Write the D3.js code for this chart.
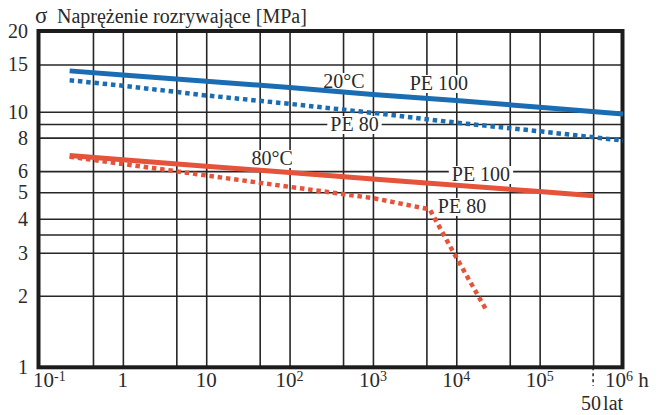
<!DOCTYPE html>
<html><head><meta charset="utf-8">
<script src="https://cdn.jsdelivr.net/npm/d3@7"></script>
<style>
body{margin:0;background:#fff}
svg{display:block}
text{font-family:"Liberation Serif","Times New Roman",serif;fill:#2a2a2a}
</style>
</head><body>
<svg id="chart" width="662" height="415"></svg>
<script>
// ---------- data ----------
const yTickLabels = [1, 2, 3, 4, 5, 6, 8, 10, 15, 20];
const yGridValues = [2, 3, 3.5, 4, 5, 6, 8, 9, 10, 15];
const xTickExponents = [-1, 0, 1, 2, 3, 4, 5, 6];
const xGridDecades = [1, 10, 100, 1e3, 1e4, 1e5];
const xGridMinor = [0.438, 4.38, 43.8, 438, 4380, 43800, 438000];
const fiftyYears = 438000;

const pe100_20C_t = [0.23, 1, 10, 100, 1e3, 1e4, 1e5, 1e6];
const pe100_20C_s = [14.2, 13.7, 13.0, 12.3, 11.6, 11.0, 10.4, 9.8];
const pe80_20C_t  = [0.23, 1, 10, 100, 1e3, 1e4, 1e5, 1e6];
const pe80_20C_s  = [13.1, 12.5, 11.5, 10.7, 9.9, 9.1, 8.45, 7.8];
const pe100_80C_t = [0.23, 1, 10, 100, 1e3, 1e4, 1e5, 4.4e5];
const pe100_80C_s = [6.86, 6.62, 6.26, 5.93, 5.61, 5.31, 5.03, 4.86];
const pe80_80C_t  = [0.23, 1, 10, 100, 1e3, 4800, 9600, 22700];
const pe80_80C_s  = [6.79, 6.38, 5.78, 5.24, 4.76, 4.33, 2.94, 1.75];

const labelTexts = ["20°C", "PE 100", "PE 80", "80°C", "PE 100", "PE 80"];
const labelT     = [450, 6170, 601, 62, 19770, 11700];
const labelS     = [12.26, 12.05, 8.47, 6.32, 5.51, 4.2];

const titleSymbol = "σ";
const titleText = "Naprężenie rozrywające [MPa]";
const unitText = "h";
const fiftyText = ["50", "lat"];

// ---------- layout ----------
const svg = d3.select("#chart");
const BLUE = "#1a6db3", RED = "#e5533a", GRID = "#262626";
const x = d3.scaleLog().domain([0.1, 1e6]).range([39.5, 623]);
// reference axis is only roughly logarithmic: piecewise log scale
const y = d3.scaleLog().domain([1, 2, 3, 5, 10, 20]).range([367, 295.7, 252.7, 192.3, 111.7, 31]);
const X0 = 38.5, X1 = 622.5, Y0 = 31, Y1 = 367.3;

// grid
const gGrid = svg.append("g");
gGrid.append("g").attr("transform", `translate(0,${Y1})`)
  .call(d3.axisBottom(x).tickValues(xGridDecades.concat(xGridMinor)).tickSize(-(Y1 - Y0)).tickFormat(""))
  .call(g => g.select(".domain").remove());
gGrid.append("g").attr("transform", `translate(${X0},0)`)
  .call(d3.axisLeft(y).tickValues(yGridValues).tickSize(-(X1 - X0)).tickFormat(""))
  .call(g => g.select(".domain").remove());
gGrid.selectAll("line").attr("stroke", GRID).attr("stroke-width", 1.6);

// 50 years dashed extension
svg.append("line").attr("x1", x(fiftyYears)).attr("x2", x(fiftyYears))
  .attr("y1", Y1).attr("y2", 386).attr("stroke", GRID).attr("stroke-width", 1.5)
  .attr("stroke-dasharray", "3,3");

// labels with white background
const gLab = svg.append("g");
labelTexts.forEach((t, i) => {
  const txt = gLab.append("text").attr("x", x(labelT[i])).attr("y", y(labelS[i]))
    .attr("text-anchor", "middle").attr("font-size", 20).text(t);
  const bb = txt.node().getBBox();
  gLab.insert("rect", "text").attr("x", bb.x - 3).attr("y", bb.y + 3)
    .attr("width", bb.width + 6).attr("height", bb.height - 4).attr("fill", "#fff");
});

// border
svg.append("rect").attr("x", X0).attr("y", Y0).attr("width", X1 - X0).attr("height", Y1 - Y0)
  .attr("fill", "none").attr("stroke", "#1c1c1c").attr("stroke-width", 4);

// series
const line = d3.line().x(d => x(d[0])).y(d => y(d[1]));
function series(ts, ss, color, dashed) {
  const p = svg.append("path").datum(ts.map((t, i) => [t, ss[i]]))
    .attr("d", line).attr("fill", "none").attr("stroke", color);
  if (dashed) p.attr("stroke-width", 4.5).attr("stroke-dasharray", "4.5,3.8");
  else p.attr("stroke-width", 5);
}
series(pe100_20C_t, pe100_20C_s, BLUE, false);
series(pe80_20C_t, pe80_20C_s, BLUE, true);
series(pe100_80C_t, pe100_80C_s, RED, false);
series(pe80_80C_t, pe80_80C_s, RED, true);

// y tick labels
svg.append("g").selectAll("text").data(yTickLabels).join("text")
  .attr("x", 28).attr("y", d => y(d)).attr("dy", "0.35em")
  .attr("text-anchor", "end").attr("font-size", 20).text(d => d);

// x tick labels
const gx = svg.append("g");
xTickExponents.forEach((e, i) => {
  const v = Math.pow(10, e);
  const t = gx.append("text").attr("y", 387).attr("font-size", 21);
  if (e === 0) t.text("1");
  else if (e === 1) t.text("10");
  else {
    t.append("tspan").text("10");
    t.append("tspan").attr("font-size", 14).attr("dy", -6).text(String(e));
  }
  if (e === 6) t.append("tspan").attr("font-size", 21).attr("dy", 6).text(" " + unitText);
  if (i === 0) t.attr("x", x(v) - 6.5).attr("text-anchor", "start");
  else if (e === 6) t.attr("x", x(v) - 18).attr("text-anchor", "start");
  else t.attr("x", x(v)).attr("text-anchor", "middle");
});
const ft = svg.append("text").attr("x", x(fiftyYears) - 12).attr("y", 410).attr("font-size", 20)
  .attr("text-anchor", "start");
ft.append("tspan").text(fiftyText[0]);
ft.append("tspan").attr("dx", 2).text(fiftyText[1]);

// title
svg.append("text").attr("x", 35).attr("y", 23).attr("font-size", 23).text(titleSymbol);
svg.append("text").attr("x", 57).attr("y", 23).attr("font-size", 20).text(titleText);
</script>
</body></html>
